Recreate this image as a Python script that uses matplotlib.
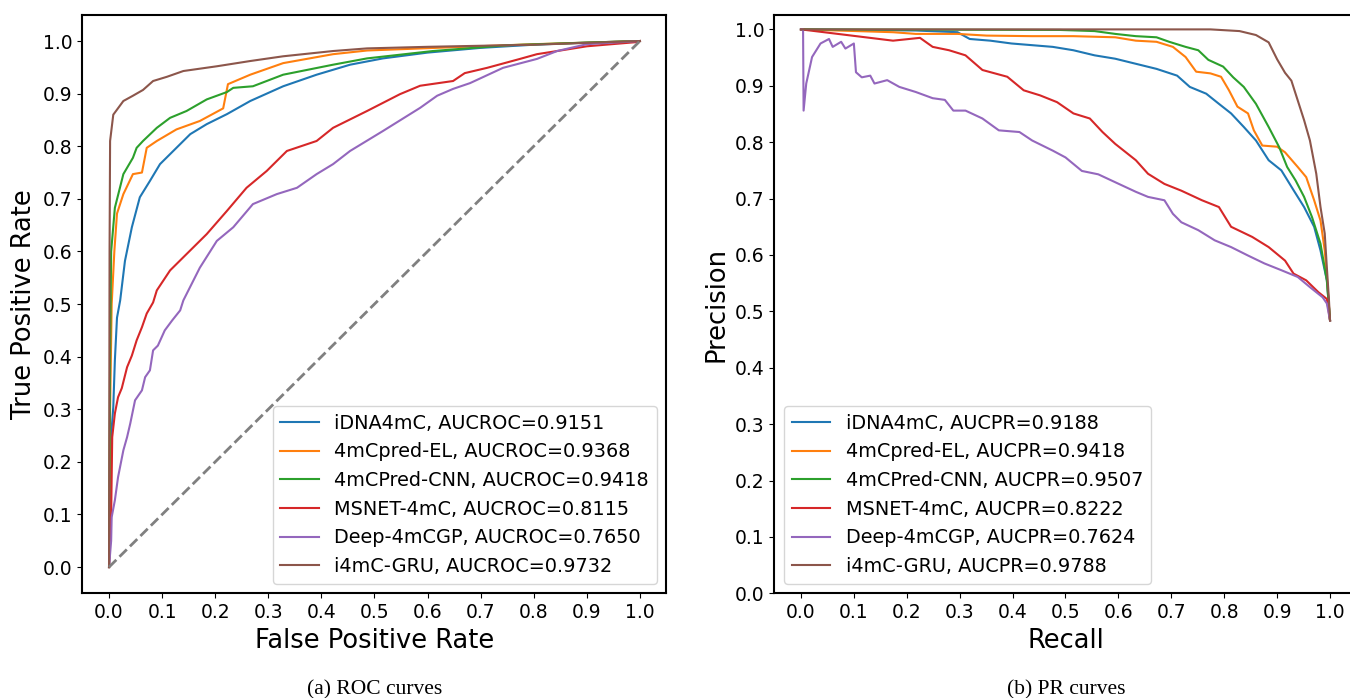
import matplotlib
matplotlib.use("Agg")
import matplotlib.pyplot as plt

# ---------------- ROC data (FPR, TPR) ----------------
roc_idna_fpr = [0, 0.002, 0.004, 0.008, 0.011, 0.015, 0.021, 0.030, 0.043, 0.058, 0.077, 0.096, 0.121, 0.153, 0.184, 0.222, 0.266, 0.328, 0.391, 0.454, 0.516, 0.60, 0.70, 0.80, 0.90, 1.0]
roc_idna_tpr = [0, 0.15, 0.25, 0.304, 0.393, 0.474, 0.507, 0.582, 0.646, 0.703, 0.734, 0.766, 0.791, 0.823, 0.842, 0.861, 0.886, 0.914, 0.936, 0.955, 0.967, 0.978, 0.987, 0.993, 0.997, 1.0]

roc_el_fpr = [0, 0.002, 0.005, 0.010, 0.015, 0.027, 0.045, 0.062, 0.071, 0.090, 0.127, 0.171, 0.215, 0.224, 0.266, 0.328, 0.422, 0.486, 0.642, 0.80, 0.90, 1.0]
roc_el_tpr = [0, 0.30, 0.50, 0.60, 0.672, 0.709, 0.747, 0.750, 0.797, 0.810, 0.832, 0.848, 0.872, 0.918, 0.936, 0.958, 0.975, 0.982, 0.988, 0.994, 0.997, 1.0]

roc_cnn_fpr = [0, 0.002, 0.004, 0.011, 0.027, 0.045, 0.052, 0.064, 0.090, 0.115, 0.146, 0.184, 0.222, 0.234, 0.271, 0.328, 0.422, 0.486, 0.610, 0.75, 0.90, 1.0]
roc_cnn_tpr = [0, 0.40, 0.60, 0.683, 0.747, 0.778, 0.797, 0.810, 0.835, 0.854, 0.867, 0.889, 0.903, 0.911, 0.914, 0.936, 0.955, 0.967, 0.981, 0.992, 0.997, 1.0]

roc_msnet_fpr = [0, 0.004, 0.006, 0.011, 0.017, 0.024, 0.034, 0.043, 0.052, 0.062, 0.071, 0.083, 0.090, 0.115, 0.146, 0.184, 0.222, 0.259, 0.297, 0.335, 0.391, 0.422, 0.486, 0.548, 0.586, 0.648, 0.670, 0.712, 0.774, 0.806, 0.844, 0.900, 0.994, 1.0]
roc_msnet_tpr = [0, 0.10, 0.247, 0.292, 0.323, 0.340, 0.380, 0.402, 0.431, 0.456, 0.482, 0.503, 0.526, 0.564, 0.595, 0.633, 0.677, 0.721, 0.753, 0.791, 0.810, 0.835, 0.867, 0.899, 0.915, 0.924, 0.939, 0.949, 0.966, 0.975, 0.981, 0.990, 0.998, 1.0]

roc_deep_fpr = [0, 0.004, 0.005, 0.011, 0.017, 0.027, 0.034, 0.040, 0.049, 0.062, 0.068, 0.077, 0.083, 0.092, 0.105, 0.119, 0.134, 0.140, 0.171, 0.203, 0.234, 0.271, 0.316, 0.354, 0.391, 0.422, 0.454, 0.516, 0.586, 0.618, 0.648, 0.680, 0.742, 0.806, 0.844, 0.900, 1.0]
roc_deep_tpr = [0, 0.05, 0.095, 0.127, 0.171, 0.222, 0.247, 0.273, 0.317, 0.336, 0.361, 0.374, 0.412, 0.421, 0.450, 0.469, 0.488, 0.507, 0.569, 0.620, 0.646, 0.690, 0.709, 0.721, 0.747, 0.766, 0.791, 0.829, 0.873, 0.896, 0.909, 0.920, 0.949, 0.966, 0.981, 0.994, 1.0]

roc_gru_fpr = [0, 0.001, 0.002, 0.008, 0.027, 0.045, 0.064, 0.083, 0.109, 0.140, 0.203, 0.266, 0.328, 0.422, 0.486, 0.60, 0.80, 1.0]
roc_gru_tpr = [0, 0.60, 0.81, 0.860, 0.886, 0.896, 0.907, 0.924, 0.932, 0.943, 0.952, 0.962, 0.971, 0.981, 0.986, 0.989, 0.993, 1.0]

# ---------------- PR data (Recall, Precision) ----------------
pr_idna_rec = [0, 0.217, 0.296, 0.319, 0.358, 0.398, 0.437, 0.476, 0.515, 0.555, 0.594, 0.633, 0.672, 0.711, 0.735, 0.766, 0.790, 0.813, 0.837, 0.860, 0.884, 0.908, 0.931, 0.951, 0.970, 0.982, 0.994, 1.0]
pr_idna_pre = [1.0, 0.998, 0.995, 0.983, 0.980, 0.975, 0.972, 0.969, 0.963, 0.954, 0.948, 0.939, 0.930, 0.918, 0.898, 0.886, 0.868, 0.851, 0.827, 0.803, 0.768, 0.750, 0.715, 0.685, 0.650, 0.608, 0.555, 0.484]

pr_el_rec = [0, 0.174, 0.217, 0.296, 0.351, 0.437, 0.515, 0.594, 0.633, 0.672, 0.703, 0.727, 0.747, 0.774, 0.794, 0.809, 0.825, 0.845, 0.856, 0.872, 0.900, 0.915, 0.939, 0.955, 0.970, 0.982, 0.990, 0.995, 1.0]
pr_el_pre = [1.0, 0.995, 0.992, 0.992, 0.989, 0.988, 0.988, 0.986, 0.980, 0.978, 0.969, 0.951, 0.925, 0.922, 0.916, 0.892, 0.863, 0.851, 0.821, 0.794, 0.792, 0.782, 0.756, 0.738, 0.697, 0.661, 0.608, 0.549, 0.484]

pr_cnn_rec = [0, 0.490, 0.555, 0.594, 0.633, 0.672, 0.696, 0.727, 0.751, 0.770, 0.798, 0.817, 0.837, 0.860, 0.884, 0.904, 0.919, 0.935, 0.951, 0.966, 0.982, 0.994, 1.0]
pr_cnn_pre = [1.0, 0.999, 0.997, 0.992, 0.988, 0.986, 0.978, 0.969, 0.963, 0.946, 0.934, 0.915, 0.898, 0.868, 0.827, 0.791, 0.756, 0.732, 0.703, 0.667, 0.620, 0.555, 0.484]

pr_msnet_rec = [0, 0.174, 0.225, 0.249, 0.280, 0.311, 0.343, 0.390, 0.421, 0.452, 0.484, 0.515, 0.546, 0.570, 0.594, 0.633, 0.656, 0.687, 0.719, 0.758, 0.790, 0.813, 0.853, 0.884, 0.915, 0.931, 0.955, 0.978, 0.994, 1.0]
pr_msnet_pre = [1.0, 0.980, 0.985, 0.969, 0.963, 0.954, 0.928, 0.916, 0.892, 0.883, 0.871, 0.851, 0.842, 0.818, 0.797, 0.768, 0.744, 0.726, 0.714, 0.697, 0.685, 0.650, 0.632, 0.614, 0.590, 0.567, 0.555, 0.534, 0.522, 0.484]

pr_deep_rec = [0, 0.004, 0.005, 0.010, 0.021, 0.037, 0.053, 0.060, 0.076, 0.084, 0.100, 0.104, 0.115, 0.131, 0.139, 0.163, 0.186, 0.217, 0.249, 0.272, 0.288, 0.311, 0.343, 0.374, 0.413, 0.437, 0.476, 0.500, 0.531, 0.562, 0.594, 0.633, 0.656, 0.687, 0.703, 0.719, 0.751, 0.782, 0.813, 0.845, 0.876, 0.908, 0.939, 0.962, 0.986, 0.994, 1.0]
pr_deep_pre = [1.0, 1.0, 0.856, 0.904, 0.951, 0.975, 0.983, 0.969, 0.978, 0.966, 0.975, 0.924, 0.915, 0.918, 0.904, 0.910, 0.898, 0.889, 0.878, 0.875, 0.856, 0.856, 0.842, 0.821, 0.818, 0.803, 0.785, 0.773, 0.749, 0.743, 0.729, 0.712, 0.703, 0.697, 0.673, 0.658, 0.644, 0.626, 0.614, 0.599, 0.585, 0.573, 0.561, 0.543, 0.525, 0.514, 0.484]

pr_gru_rec = [0, 0.774, 0.829, 0.860, 0.884, 0.900, 0.915, 0.927, 0.939, 0.951, 0.962, 0.974, 0.982, 0.990, 0.994, 0.998, 1.0]
pr_gru_pre = [1.0, 1.0, 0.997, 0.990, 0.977, 0.947, 0.923, 0.909, 0.874, 0.839, 0.803, 0.744, 0.685, 0.638, 0.578, 0.520, 0.484]

roc_labels = ["iDNA4mC, AUCROC=0.9151", "4mCpred-EL, AUCROC=0.9368", "4mCPred-CNN, AUCROC=0.9418",
              "MSNET-4mC, AUCROC=0.8115", "Deep-4mCGP, AUCROC=0.7650", "i4mC-GRU, AUCROC=0.9732"]
pr_labels = ["iDNA4mC, AUCPR=0.9188", "4mCpred-EL, AUCPR=0.9418", "4mCPred-CNN, AUCPR=0.9507",
             "MSNET-4mC, AUCPR=0.8222", "Deep-4mCGP, AUCPR=0.7624", "i4mC-GRU, AUCPR=0.9788"]
ticks = [0.0, 0.1, 0.2, 0.3, 0.4, 0.5, 0.6, 0.7, 0.8, 0.9, 1.0]

roc_series = [(roc_idna_fpr, roc_idna_tpr), (roc_el_fpr, roc_el_tpr), (roc_cnn_fpr, roc_cnn_tpr),
              (roc_msnet_fpr, roc_msnet_tpr), (roc_deep_fpr, roc_deep_tpr), (roc_gru_fpr, roc_gru_tpr)]
pr_series = [(pr_idna_rec, pr_idna_pre), (pr_el_rec, pr_el_pre), (pr_cnn_rec, pr_cnn_pre),
             (pr_msnet_rec, pr_msnet_pre), (pr_deep_rec, pr_deep_pre), (pr_gru_rec, pr_gru_pre)]
colors = ["#1f77b4", "#ff7f0e", "#2ca02c", "#d62728", "#9467bd", "#8c564b"]

plt.rcParams['font.family'] = ['DejaVu Sans']
fig = plt.figure(figsize=(13.5, 6.98), dpi=100)
ax1 = fig.add_axes([0.0611, 0.1499, 0.4326, 0.829])
ax2 = fig.add_axes([0.5737, 0.1499, 0.4311, 0.829])

for (x, y), c, lab in zip(roc_series, colors, roc_labels):
    ax1.plot(x, y, color=c, lw=1.5, label=lab)
ax1.plot([0, 1], [0, 1], color="gray", ls="--", lw=2)
ax1.set_xlim(-0.05, 1.05)
ax1.set_ylim(-0.05, 1.05)
ax1.set_xticks(ticks)
ax1.set_yticks(ticks)
ax1.set_xlabel("False Positive Rate", fontsize=18.5)
ax1.set_ylabel("True Positive Rate", fontsize=18.5)
ax1.tick_params(labelsize=13.5)
ax1.legend(loc="lower right", fontsize=13.9, labelspacing=0.5)

for (x, y), c, lab in zip(pr_series, colors, pr_labels):
    ax2.plot(x, y, color=c, lw=1.5, label=lab)
ax2.set_xlim(-0.05, 1.05)
ax2.set_ylim(0, 1.026)
ax2.set_xticks(ticks)
ax2.set_yticks(ticks)
ax2.set_xlabel("Recall", fontsize=18.5)
ax2.set_ylabel("Precision", fontsize=18.5)
ax2.tick_params(labelsize=13.5)
ax2.legend(loc="lower left", fontsize=13.9, labelspacing=0.5)

for ax in (ax1, ax2):
    for s in ax.spines.values():
        s.set_linewidth(1.5)

fig.text(0.2774, 0.0057, "(a) ROC curves", fontfamily="Liberation Serif", fontsize=15.5, ha="center", va="baseline")
fig.text(0.790, 0.0057, "(b) PR curves", fontfamily="Liberation Serif", fontsize=15.5, ha="center", va="baseline")

fig.savefig("out.png", dpi=100)
